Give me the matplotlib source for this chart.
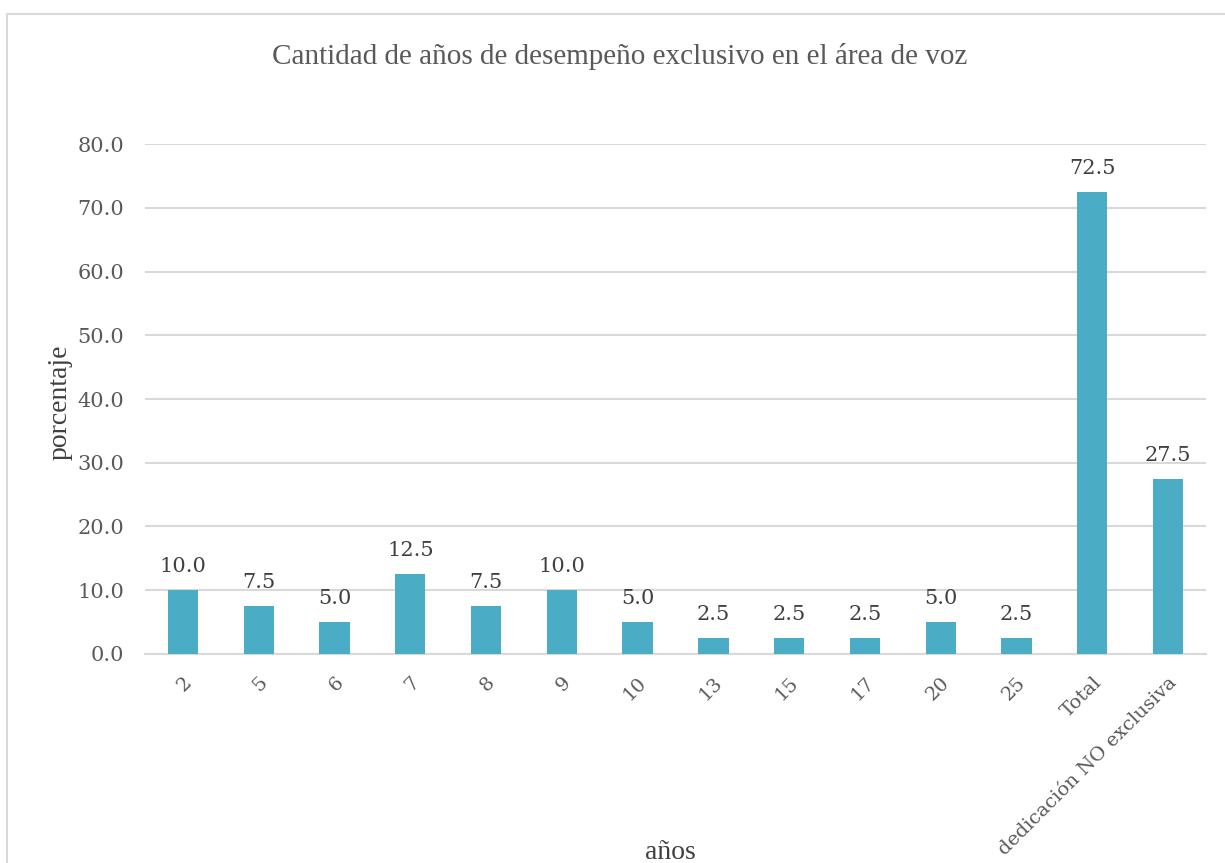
import matplotlib.pyplot as plt
from matplotlib.patches import Rectangle

categorias = ["2", "5", "6", "7", "8", "9", "10", "13", "15", "17", "20", "25",
              "Total", "dedicación NO exclusiva"]
porcentajes = [10.0, 7.5, 5.0, 12.5, 7.5, 10.0, 5.0, 2.5, 2.5, 2.5, 5.0, 2.5, 72.5, 27.5]

barColor = "#4BACC6"
textColor = "#595959"
gridColor = "#D9D9D9"
serif = ["DejaVu Serif"]

fig = plt.figure(figsize=(12.25, 8.63), dpi=100)
ax = fig.add_axes([0.1184, 0.2422, 0.866, 0.5909])

# chart border
fig.patches.append(Rectangle((7 / 1225, -0.01), 1.0, 1 - 14 / 863 + 0.01,
                             transform=fig.transFigure, fill=False,
                             edgecolor=gridColor, linewidth=1.5))

x = range(len(categorias))
bars = ax.bar(x, porcentajes, width=0.4, color=barColor, zorder=3)

for rect, val in zip(bars, porcentajes):
    ax.text(rect.get_x() + rect.get_width() / 2, val + 2.2, f"{val:.1f}",
            ha="center", va="bottom", fontsize=15, color="#404040", family=serif)

ax.set_xlim(-0.5, len(categorias) - 0.5)
ax.set_ylim(0, 80)
ax.set_yticks(range(0, 81, 10))
ax.set_yticklabels([f"{v:.1f}" for v in range(0, 81, 10)], fontsize=15,
                   color=textColor, family=serif)
ax.set_xticks(list(x))
ax.set_xticklabels(categorias, rotation=45, ha="right", va="top",
                   rotation_mode="anchor", fontsize=14, color=textColor, family=serif)
ax.tick_params(axis="y", length=0, pad=15)
ax.tick_params(axis="x", length=0, pad=14)

ax.grid(axis="y", color=gridColor, linewidth=1.5, zorder=0)
for side in ["top", "right", "left"]:
    ax.spines[side].set_visible(False)
ax.spines["bottom"].set_color(gridColor)
ax.spines["bottom"].set_linewidth(1.5)

fig.text(0.506, 1 - 56 / 863, "Cantidad de años de desempeño exclusivo en el área de voz",
         ha="center", va="center", fontsize=21, color=textColor, family=["Liberation Serif"])
fig.text(60 / 1225, 1 - 402 / 863, "porcentaje", rotation=90, ha="center", va="center",
         fontsize=20, color="#404040", family=["Liberation Serif"])
fig.text(670 / 1225, 1 - 852 / 863, "años", ha="center", va="center",
         fontsize=20, color="#404040", family=["Liberation Serif"])

fig.savefig("out.png", dpi=100)
